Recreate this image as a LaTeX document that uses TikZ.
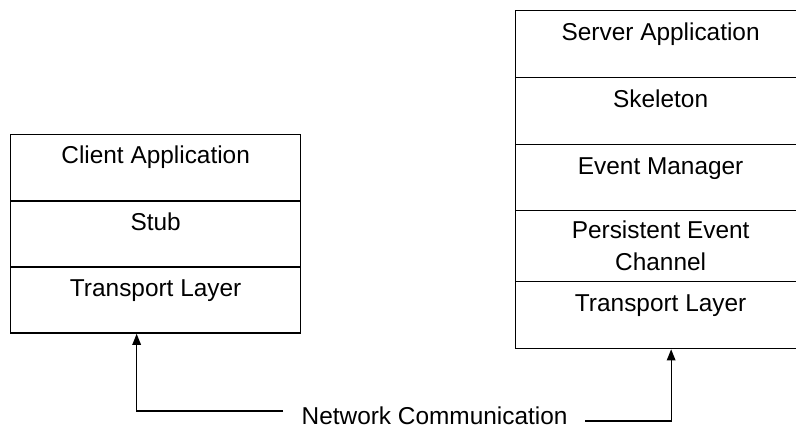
\documentclass[tikz,border=0pt]{standalone}
\usepackage{fontspec}
\setmainfont{Liberation Sans}
\usetikzlibrary{arrows.meta}

\begin{document}
\begin{tikzpicture}[x=1pt,y=-1pt,
  cell/.style={draw=black, line width=1.3pt, minimum width=290pt,
    anchor=north west, inner sep=0pt, fill=white},
  celltext/.style={anchor=base, inner sep=0pt, text=black,
    font=\fontsize{24.4}{31.5}\selectfont, align=center},
  link/.style={draw=black, line width=1.3pt},
  linkarrow/.style={link, -{Triangle[length=11pt,width=8.5pt]}}
]
\useasboundingbox (0,0) rectangle (796,427);
\clip (0,0) rectangle (796,427);
\fill[white] (0,0) rectangle (796,427);

% client stack
\node[cell, minimum height=66.5pt] (ca) at (10,134) {};
\node[cell, minimum height=66pt]   (cs) at (10,200.5) {};
\node[cell, minimum height=66pt]   (ct) at (10,266.5) {};
\node[celltext] (cat) at ([yshift=-30pt]ca.north) {Client Application};
\node[celltext] (cst) at ([yshift=-30pt]cs.north) {Stub};
\node[celltext] (ctt) at ([yshift=-30pt]ct.north) {Transport Layer};

% server stack
\node[cell, minimum height=67pt] (sa) at (515,10) {};
\node[cell, minimum height=67pt] (sk) at (515,77) {};
\node[cell, minimum height=66pt] (em) at (515,144) {};
\node[cell, minimum height=71pt] (pe) at (515,210) {};
\node[cell, minimum height=67pt] (st) at (515,281) {};
\node[celltext] (sat) at ([yshift=-31pt]sa.north) {Server Application};
\node[celltext] (skt) at ([yshift=-31pt]sk.north) {Skeleton};
\node[celltext] (emt) at ([yshift=-31pt]em.north) {Event Manager};
\node[celltext] (pet1) at ([yshift=-29pt]pe.north) {Persistent Event};
\node[celltext] (pet2) at ([yshift=-60.7pt]pe.north) {Channel};
\node[celltext] (stt) at ([yshift=-30.7pt]st.north) {Transport Layer};

% network link
\node[celltext, anchor=base west] (nc) at (301.5,424.3) {Network Communication};
\coordinate (nl) at (283,411);
\coordinate (nr) at (585,421);
\draw[linkarrow] (nl) -| ([xshift=-19pt]ct.south);
\draw[linkarrow] (nr) -| ([xshift=10.5pt]st.south);
\end{tikzpicture}
\end{document}
